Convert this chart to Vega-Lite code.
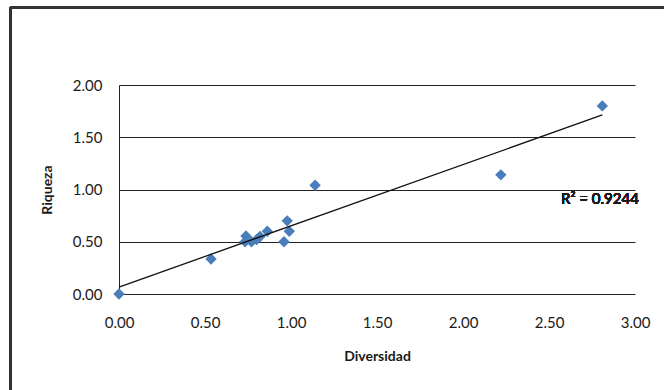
{
  "$schema": "https://vega.github.io/schema/vega-lite/v6.json",
  "width": 516,
  "height": 209,
  "autosize": {"type": "none"},
  "padding": {"left": 119, "top": 85, "right": 29, "bottom": 96},
  "background": "white",
  "config": {
    "font": "Lato",
    "view": {"stroke": null},
    "axis": {
      "labelFont": "Lato",
      "labelFontSize": 15,
      "labelColor": "#1a1a1a",
      "titleFont": "Lato",
      "titleFontWeight": "bold",
      "titleColor": "#1a1a1a",
      "ticks": false
    }
  },
  "data": {
    "values": [
      {"diversidad": 0.0, "riqueza": 0.0},
      {"diversidad": 0.535, "riqueza": 0.335},
      {"diversidad": 0.733, "riqueza": 0.5},
      {"diversidad": 0.738, "riqueza": 0.555},
      {"diversidad": 0.77, "riqueza": 0.5},
      {"diversidad": 0.8, "riqueza": 0.52},
      {"diversidad": 0.82, "riqueza": 0.55},
      {"diversidad": 0.862, "riqueza": 0.6},
      {"diversidad": 0.959, "riqueza": 0.5},
      {"diversidad": 0.978, "riqueza": 0.7},
      {"diversidad": 0.99, "riqueza": 0.6},
      {"diversidad": 1.14, "riqueza": 1.04},
      {"diversidad": 2.22, "riqueza": 1.14},
      {"diversidad": 2.81, "riqueza": 1.8}
    ]
  },
  "encoding": {
    "x": {
      "field": "diversidad",
      "type": "quantitative",
      "scale": {"domain": [0, 3], "nice": false, "zero": false},
      "axis": {
        "title": "Diversidad",
        "titleFontSize": 14,
        "titlePadding": 19,
        "values": [0, 0.5, 1, 1.5, 2, 2.5, 3],
        "format": ".2f",
        "grid": false,
        "domain": false,
        "labelPadding": 21,
        "labelFlush": false
      }
    },
    "y": {
      "field": "riqueza",
      "type": "quantitative",
      "scale": {"domain": [0, 2], "nice": false, "zero": false},
      "axis": {
        "title": "Riqueza",
        "titleFontSize": 14,
        "titlePadding": 18,
        "values": [0, 0.5, 1, 1.5, 2],
        "format": ".2f",
        "grid": true,
        "gridColor": "#222222",
        "gridOpacity": 1,
        "gridWidth": 1,
        "domain": true,
        "domainColor": "#222222",
        "domainWidth": 1,
        "labelPadding": 17
      }
    }
  },
  "layer": [
    {
      "mark": {"type": "point", "shape": "diamond", "filled": true, "size": 130, "color": "#4A7EBB", "opacity": 1}
    },
    {
      "transform": [{"regression": "riqueza", "on": "diversidad"}],
      "mark": {"type": "line", "color": "#111111", "strokeWidth": 1.3}
    },
    {
      "mark": {"type": "text", "align": "left", "baseline": "middle", "fontSize": 15, "color": "#1a1a1a", "font": "Lato"},
      "encoding": {
        "x": {"datum": 2.57},
        "y": {"datum": 0.905},
        "text": {"value": "R² = 0.9244"}
      }
    },
    {
      "mark": {"type": "rule", "color": "#333333", "strokeWidth": 2},
      "encoding": {
        "x": {"datum": -0.631},
        "y": {"datum": 2.742},
        "y2": {"datum": -1.2}
      }
    },
    {
      "mark": {"type": "rule", "color": "#333333", "strokeWidth": 2},
      "encoding": {
        "y": {"datum": 2.742},
        "x": {"datum": -0.631},
        "x2": {"datum": 3.5}
      }
    }
  ]
}
